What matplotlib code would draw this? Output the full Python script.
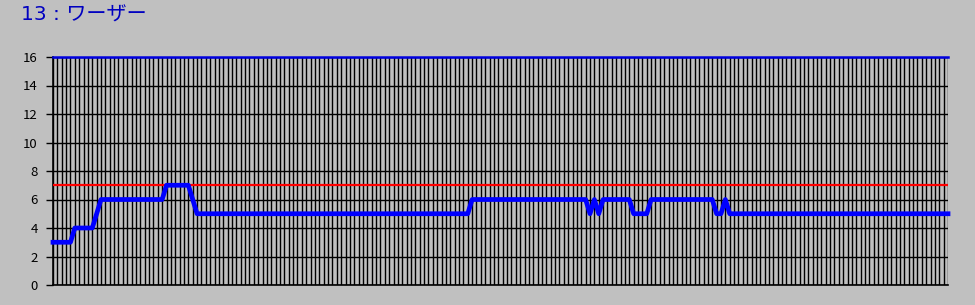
import numpy as np
import matplotlib
matplotlib.use("Agg")
import matplotlib.pyplot as plt

plt.rcParams['font.family'] = ['Noto Sans CJK JP', 'DejaVu Sans']

title = "13 : ワーザー"
players = [
    3, 3, 3, 3, 3, 4, 4, 4, 4, 4,
    5, 6, 6, 6, 6, 6, 6, 6, 6, 6,
    6, 6, 6, 6, 6, 6, 7, 7, 7, 7,
    7, 7, 6, 5, 5, 5, 5, 5, 5, 5,
    5, 5, 5, 5, 5, 5, 5, 5, 5, 5,
    5, 5, 5, 5, 5, 5, 5, 5, 5, 5,
    5, 5, 5, 5, 5, 5, 5, 5, 5, 5,
    5, 5, 5, 5, 5, 5, 5, 5, 5, 5,
    5, 5, 5, 5, 5, 5, 5, 5, 5, 5,
    5, 5, 5, 5, 5, 5, 6, 6, 6, 6,
    6, 6, 6, 6, 6, 6, 6, 6, 6, 6,
    6, 6, 6, 6, 6, 6, 6, 6, 6, 6,
    6, 6, 6, 5, 6, 5, 6, 6, 6, 6,
    6, 6, 6, 5, 5, 5, 5, 6, 6, 6,
    6, 6, 6, 6, 6, 6, 6, 6, 6, 6,
    6, 6, 5, 5, 6, 5, 5, 5, 5, 5,
    5, 5, 5, 5, 5, 5, 5, 5, 5, 5,
    5, 5, 5, 5, 5, 5, 5, 5, 5, 5,
    5, 5, 5, 5, 5, 5, 5, 5, 5, 5,
    5, 5, 5, 5, 5, 5, 5, 5, 5, 5,
    5, 5, 5, 5, 5, 5,
]
max_players = 16
limit = 7
y_ticks = [0, 2, 4, 6, 8, 10, 12, 14, 16]

x = np.arange(len(players))
bg = '#c0c0c0'

fig = plt.figure(figsize=(9.75, 3.05), dpi=100, facecolor=bg)
ax = fig.add_axes([53 / 975, 20 / 305, 895 / 975, 228 / 305], facecolor=bg)

ax.set_xlim(0, len(players) - 1)
ax.set_ylim(0, 16)
ax.set_xticks(x)
ax.set_xticklabels([])
ax.set_yticks(y_ticks)
ax.tick_params(axis='x', length=0)
ax.tick_params(axis='y', length=5, width=1, pad=6, labelsize=9.5, colors='black')
ax.grid(True, color='black', linewidth=1)
ax.set_axisbelow(True)
for side in ['top', 'right']:
    ax.spines[side].set_visible(False)
for side in ['left', 'bottom']:
    ax.spines[side].set_linewidth(1.2)

ax.plot([x[0], x[-1]], [max_players, max_players], color='#0000e0', lw=1.8, clip_on=False, zorder=4)
ax.plot([x[0], x[-1]], [limit, limit], color='#ff0000', lw=1.6, zorder=3)
ax.plot(x, players, color='#0000ff', lw=3.4, zorder=5, clip_on=False)

fig.text(21 / 975, 1 - 15 / 305, title, color='#0000c0', fontsize=14.5,
         family=['DejaVu Sans', 'Noto Sans CJK JP'], va='center', ha='left')

fig.savefig('out.png', dpi=100, facecolor=bg)
